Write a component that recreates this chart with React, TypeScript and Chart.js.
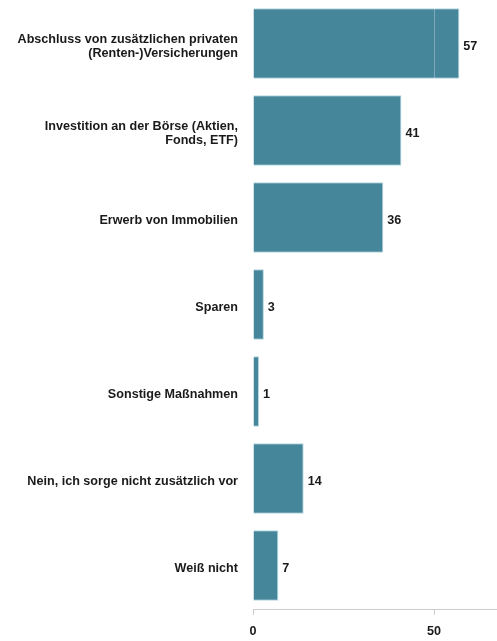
import React, { useEffect, useRef } from "react";
import { Chart, registerables } from "chart.js";

Chart.register(...registerables);

const categories: (string | string[])[] = [
  ["Abschluss von zusätzlichen privaten", "(Renten-)Versicherungen"],
  ["Investition an der Börse (Aktien,", "Fonds, ETF)"],
  "Erwerb von Immobilien",
  "Sparen",
  "Sonstige Maßnahmen",
  "Nein, ich sorge nicht zusätzlich vor",
  "Weiß nicht",
];
const values: number[] = [57, 41, 36, 3, 1, 14, 7];
const xTicks: number[] = [0, 50];
const xMax = 67.4;

const FONT = "'Liberation Sans', Arial, sans-serif";

const valueLabels = {
  id: "valueLabels",
  afterDatasetsDraw(chart: any) {
    const ctx = chart.ctx;
    const meta = chart.getDatasetMeta(0);
    const xs = chart.scales.x;
    const area = chart.chartArea;
    ctx.save();
    // grid line at 50 drawn over bars
    const gx = Math.round(xs.getPixelForValue(50)) + 0.5;
    ctx.strokeStyle = "rgba(255,255,255,0.3)";
    ctx.lineWidth = 1;
    ctx.beginPath();
    ctx.moveTo(gx, area.top);
    ctx.lineTo(gx, area.bottom);
    ctx.stroke();
    ctx.fillStyle = "#1a1a1a";
    ctx.font = `bold 12.6px ${FONT}`;
    ctx.textAlign = "left";
    ctx.textBaseline = "middle";
    meta.data.forEach((bar: any, i: number) => {
      ctx.fillText(String(values[i]), bar.x + 4, bar.y + 3);
    });
    ctx.restore();
  },
};

export default function App() {
  const ref = useRef<HTMLCanvasElement | null>(null);
  useEffect(() => {
    if (!ref.current) return;
    const chart = new Chart(ref.current, {
      type: "bar",
      data: {
        labels: categories,
        datasets: [
          {
            data: values,
            backgroundColor: "#45869b",
            borderColor: "#b3d6e0",
            borderWidth: 1,
            barPercentage: 0.9,
            categoryPercentage: 0.9,
            minBarLength: 6,
          },
        ],
      },
      options: {
        indexAxis: "y",
        animation: false,
        responsive: false,
        maintainAspectRatio: false,
        layout: { padding: 0 },
        plugins: { legend: { display: false }, tooltip: { enabled: false } },
        scales: {
          x: {
            min: 0,
            max: xMax,
            afterBuildTicks: (scale: any) => {
              scale.ticks = xTicks.map((v) => ({ value: v }));
            },
            afterFit: (scale: any) => {
              scale.height = 32;
            },
            grid: {
              drawOnChartArea: false,
              drawTicks: true,
              tickLength: 6,
              color: "#cccccc",
            },
            border: { display: true, color: "#cccccc" },
            ticks: {
              padding: 9,
              color: "#1a1a1a",
              font: { family: FONT, size: 12.6, weight: "bold" },
              maxRotation: 0,
            },
          },
          y: {
            afterFit: (scale: any) => {
              scale.width = 253;
              scale.paddingTop = 0;
              scale.paddingBottom = 0;
            },
            grid: { display: false, drawTicks: false },
            border: { display: false },
            ticks: {
              padding: 15,
              labelOffset: 3,
              color: "#1a1a1a",
              font: { family: FONT, size: 12.6, weight: "bold", lineHeight: 1.15 },
            },
          },
        },
      },
      plugins: [valueLabels],
    });
    return () => chart.destroy();
  }, []);
  return (
    <div style={{ position: "absolute", left: 0, top: 0, width: 497, height: 641 }}>
      <canvas ref={ref} width={497} height={641} style={{ width: 497, height: 641, display: "block" }} />
    </div>
  );
}
